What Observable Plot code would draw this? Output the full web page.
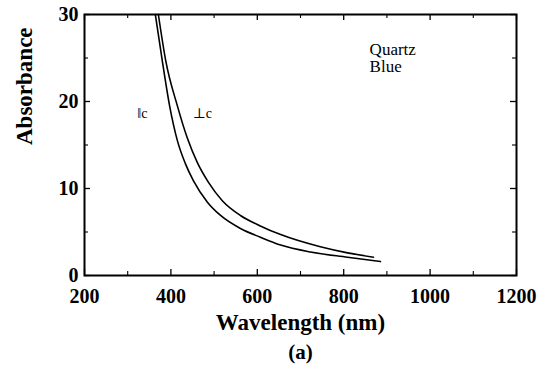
<!DOCTYPE html>
<html>
<head>
<meta charset="utf-8">
<script src="https://cdn.jsdelivr.net/npm/d3@7"></script>
<script src="https://cdn.jsdelivr.net/npm/@observablehq/plot@0.6"></script>
<style>
  html, body { margin: 0; padding: 0; background: #fff; }
  svg, svg text { font-family: "Liberation Serif", "Times New Roman", Times, "DejaVu Serif", serif; }
</style>
</head>
<body>
<div id="chart"></div>
<script>
// Parallel to c-axis (∥c)
const parWavelength = [364, 380, 397, 415, 434, 452, 485, 515, 561, 607, 654, 723, 809, 885];
const parAbsorbance = [30, 24.7, 19.5, 15.5, 12.8, 10.9, 8.4, 6.9, 5.4, 4.4, 3.5, 2.7, 2.1, 1.6];
// Perpendicular to c-axis (⊥c)
const perpWavelength = [371, 388, 415, 438, 461, 487, 519, 561, 607, 654, 746, 809, 869];
const perpAbsorbance = [30, 24.7, 19.5, 15.8, 13.0, 10.7, 8.6, 6.9, 5.7, 4.7, 3.3, 2.6, 2.1];

const xMajor = [200, 400, 600, 800, 1000, 1200];
const xMinor = [300, 500, 700, 900, 1100];
const yMajor = [0, 10, 20, 30];
const yMinor = [5, 15, 25];

const curveLabels = [
  {w: 322, a: 18.6, t: "‖c"},
  {w: 450, a: 18.6, t: "⊥c"}
];
const sampleLabels = [
  {w: 860, a: 26.0, t: "Quartz"},
  {w: 860, a: 24.0, t: "Blue"}
];

const par = parWavelength.map((w, i) => ({w, a: parAbsorbance[i]}));
const perp = perpWavelength.map((w, i) => ({w, a: perpAbsorbance[i]}));

const H = 261; // inner plot height
const W = 432; // inner plot width
const FF = "'Liberation Serif', 'Times New Roman', Times, 'DejaVu Serif', serif";
const FS = "'DejaVu Serif', 'Liberation Serif', serif";

const chart = Plot.plot({
  width: 545,
  height: 369,
  marginLeft: 84,
  marginRight: 29,
  marginTop: 14,
  marginBottom: 94,
  style: {fontFamily: FF, background: "#fff", color: "#000"},
  x: {domain: [200, 1200]},
  y: {domain: [0, 30]},
  marks: [
    Plot.axisX(xMajor, {tickSize: 0, tickPadding: 13, fontSize: 20, fontWeight: "bold", fontFamily: FF, label: null, tickFormat: d => String(d)}),
    Plot.axisY(yMajor, {tickSize: 0, tickPadding: 6, fontSize: 20, fontWeight: "bold", fontFamily: FF, label: null, tickFormat: d => String(d)}),
    Plot.ruleX(xMajor, {insetTop: H - 6, stroke: "#000", strokeWidth: 1.3}),
    Plot.ruleX(xMajor, {insetBottom: H - 6, stroke: "#000", strokeWidth: 1.3}),
    Plot.ruleX(xMinor, {insetTop: H - 4, stroke: "#000", strokeWidth: 1.1}),
    Plot.ruleX(xMinor, {insetBottom: H - 4, stroke: "#000", strokeWidth: 1.1}),
    Plot.ruleY(yMajor, {insetRight: W - 6, stroke: "#000", strokeWidth: 1.3}),
    Plot.ruleY(yMajor, {insetLeft: W - 6, stroke: "#000", strokeWidth: 1.3}),
    Plot.ruleY(yMinor, {insetRight: W - 4, stroke: "#000", strokeWidth: 1.1}),
    Plot.ruleY(yMinor, {insetLeft: W - 4, stroke: "#000", strokeWidth: 1.1}),
    Plot.frame({stroke: "#000", strokeWidth: 2}),
    Plot.line(par, {x: "w", y: "a", stroke: "#000", strokeWidth: 1.6, curve: "monotone-x"}),
    Plot.line(perp, {x: "w", y: "a", stroke: "#000", strokeWidth: 1.6, curve: "monotone-x"}),
    Plot.text(curveLabels, {x: "w", y: "a", text: "t", fontSize: 14, fontFamily: FS, textAnchor: "start", fill: "#000"}),
    Plot.text(sampleLabels, {x: "w", y: "a", text: "t", fontSize: 17, fontFamily: FF, textAnchor: "start", fill: "#000"}),
    Plot.text(["Wavelength (nm)"], {frameAnchor: "bottom", dy: 54, fontSize: 23, fontWeight: "bold", fontFamily: FF, fill: "#000"}),
    Plot.text(["(a)"], {frameAnchor: "bottom", dy: 83, fontSize: 21, fontWeight: "bold", fontFamily: FF, fill: "#000"}),
    Plot.text(["Absorbance"], {frameAnchor: "left", dx: -60, rotate: -90, fontSize: 23, fontWeight: "bold", fontFamily: FF, fill: "#000"})
  ]
});
document.getElementById("chart").appendChild(chart);
</script>
</body>
</html>
